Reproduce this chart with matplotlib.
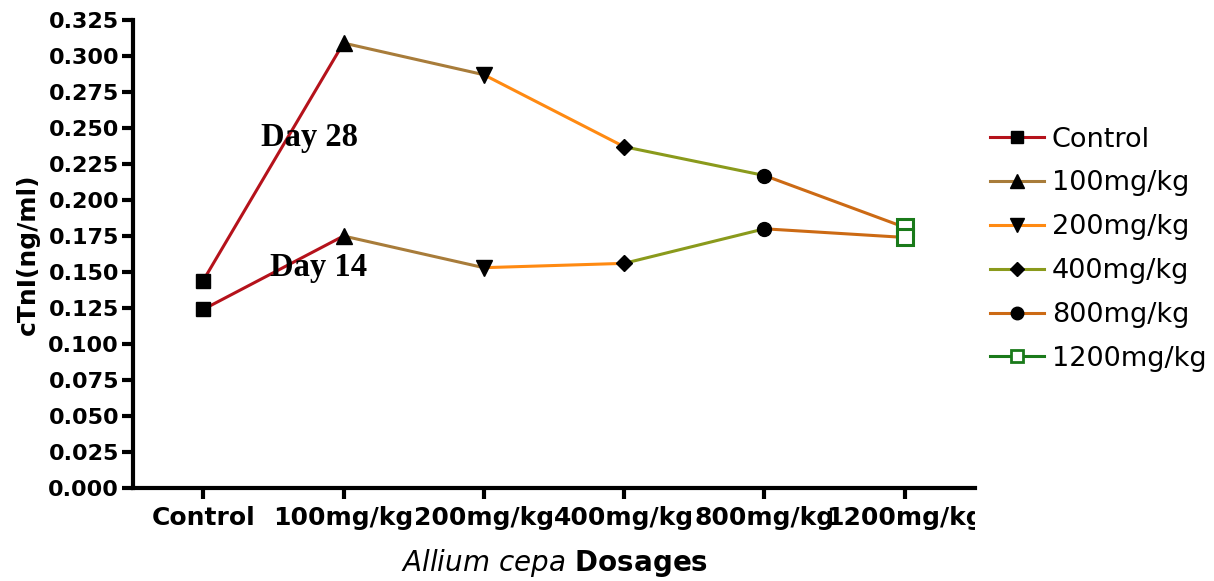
import matplotlib
matplotlib.use("Agg")
import matplotlib.pyplot as plt
from matplotlib.lines import Line2D
from matplotlib.transforms import Bbox

groups = ["Control", "100mg/kg", "200mg/kg", "400mg/kg", "800mg/kg", "1200mg/kg"]
day28 = [0.144, 0.309, 0.287, 0.237, 0.217, 0.181]
day14 = [0.124, 0.175, 0.153, 0.156, 0.180, 0.174]
yticks = [0.000, 0.025, 0.050, 0.075, 0.100, 0.125, 0.150, 0.175,
          0.200, 0.225, 0.250, 0.275, 0.300, 0.325]

colors = ["#b5121b", "#a87c3a", "#ff8a12", "#8a9a1c", "#cc6a14", "#1a7a1a"]
markers = ["s", "^", "v", "D", "o", "s"]
msizes = [10, 11, 11, 8, 10, 11]

fig = plt.figure(figsize=(12.14, 5.81), dpi=100)
ax = fig.add_axes([133 / 1214, 1 - 488 / 581, (975 - 133) / 1214, (488 - 20) / 581])

x = list(range(len(groups)))
for series in (day28, day14):
    # each segment takes the colour of the group it starts from
    for i in range(len(x) - 1):
        ax.plot(x[i:i + 2], series[i:i + 2], color=colors[i], lw=2.2, zorder=2)
    for i in range(len(x)):
        if i == len(x) - 1:
            ax.plot(x[i], series[i], marker=markers[i], ms=msizes[i], mfc="white",
                    mec=colors[i], mew=2.2, zorder=3, clip_on=False)
        else:
            ax.plot(x[i], series[i], marker=markers[i], ms=msizes[i], color="black",
                    zorder=3, clip_on=False)

ax.text(0.755, 0.2437, "Day 28", fontsize=23.5, fontweight="bold", family="Liberation Serif",
        ha="center", va="center")
ax.text(0.82, 0.1528, "Day 14", fontsize=23.5, fontweight="bold", family="Liberation Serif",
        ha="center", va="center")

ax.set_xlim(-0.5, 5.5)
ax.set_ylim(0, 0.325)
ax.set_xticks(x)
ax.set_xticklabels(groups, fontsize=18, fontweight="bold")
ax.set_yticks(yticks)
ax.set_yticklabels([f"{v:.3f}" for v in yticks], fontsize=16, fontweight="bold")
ax.tick_params(axis="both", direction="out", length=8, width=3, pad=2)
ax.tick_params(axis="x", pad=5)

for side in ("top", "right"):
    ax.spines[side].set_visible(False)
for side in ("left", "bottom"):
    ax.spines[side].set_linewidth(3)

ax.set_ylabel("cTnI(ng/ml)", fontsize=18, fontweight="bold", labelpad=6)
ax.set_xlabel(r"$\mathit{Allium\ cepa}$ Dosages", fontsize=20, fontweight="bold", labelpad=12)

# the last tick label is cut off at the right end of the axis
for lab in ax.get_xticklabels():
    lab.set_clip_on(True)
    lab.set_clip_box(Bbox.from_extents(0, 0, 975, 581))

handles = []
for i, g in enumerate(groups):
    if i == len(groups) - 1:
        h = Line2D([], [], color=colors[i], lw=2.2, marker=markers[i], ms=9,
                   mfc="white", mec=colors[i], mew=2)
    else:
        h = Line2D([], [], color=colors[i], lw=2.2, marker=markers[i], ms=msizes[i] - 1,
                   mfc="black", mec="black")
    handles.append(h)
fig.legend(handles, groups, loc="upper left", bbox_to_anchor=(976 / 1214, 1 - 113 / 581),
           frameon=False, fontsize=19.5, handlelength=2.0, handletextpad=0.3,
           labelspacing=0.66, borderpad=0)

fig.savefig("out.png", dpi=100)
